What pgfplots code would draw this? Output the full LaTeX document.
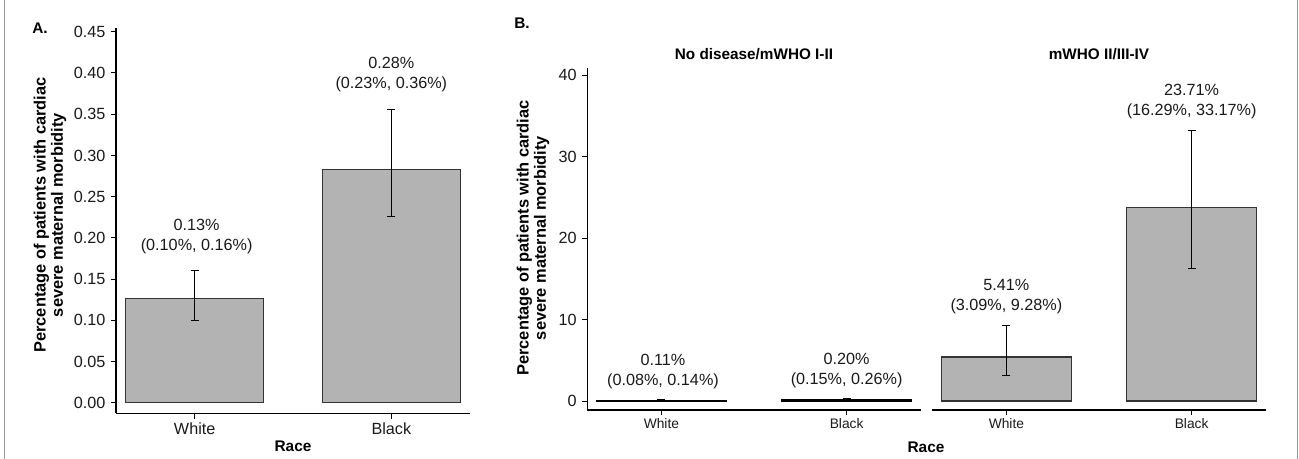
\documentclass[border=0pt]{standalone}
\usepackage{pgfplots}
\pgfplotsset{compat=1.18}
\usepackage{fontspec}
\setmainfont{Liberation Sans}
\definecolor{barfill}{HTML}{B3B3B3}
\definecolor{barline}{HTML}{333333}
\definecolor{framegray}{HTML}{9A9A9A}
\definecolor{txt}{HTML}{1A1A1A}

\pgfplotsset{
  mybase/.style={
    scale only axis,
    anchor=south west,
    axis x line*=bottom,
    axis y line*=left,
    xmin=0.6, xmax=2.4,
    xtick={1,2}, xticklabels={White,Black},
    tick align=outside,
    major tick length=2.6pt,
    tick style={black, line width=0.5pt},
    axis line style={black, line width=0.6pt, -},
    every tick label/.append style={text=txt},
    y tick label style={font=\fontsize{8.1}{9}\selectfont, /pgf/number format/assume math mode=true, xshift=0.8pt},
    clip=false,
  },
  errstyle/.style={
    error bars/.cd, y dir=both, y explicit,
    error bar style={black, line width=0.6pt},
    error mark options={rotate=90, mark size=2pt, line width=0.6pt, black},
  },
}
\tikzset{
  lab/.style={align=center, inner sep=0pt, anchor=south, text=txt,
    font=\fontsize{8.1}{10}\selectfont},
}

\begin{document}
\begin{tikzpicture}
\useasboundingbox (0,0) rectangle (649.5pt,-229.5pt);
\draw[framegray, line width=0.5pt] (2pt,0) -- (2pt,-229.5pt);
\draw[framegray, line width=0.5pt] (648.8pt,0) -- (648.8pt,-229.5pt);

\node[font=\bfseries\fontsize{7.7}{8}\selectfont] at (20pt,-14.3pt) {A.};
\node[font=\bfseries\fontsize{7.7}{8}\selectfont] at (261pt,-11.8pt) {B.};

% Panel A
\begin{axis}[mybase,
  at={(58pt,-206.65pt)},
  width=177pt, height=192.65pt,
  ymin=-0.01286, ymax=0.4546,
  ytick={0,0.05,...,0.45},
  yticklabel style={/pgf/number format/.cd, fixed, fixed zerofill, precision=2},
  x tick label style={font=\fontsize{8.1}{9}\selectfont, yshift=1.5pt},
]
\addplot[ybar, bar width=0.7, fill=barfill, draw=barline, line width=0.6pt, errstyle]
  coordinates {(1,0.126) += (0,0.034) -= (0,0.026)
               (2,0.283) += (0,0.073) -= (0,0.057)};
\node[lab, yshift=8.5pt, xshift=1pt] at (axis cs:1,0.160) {0.13\%\\(0.10\%, 0.16\%)};
\node[lab, yshift=8.5pt] at (axis cs:2,0.356) {0.28\%\\(0.23\%, 0.36\%)};
\end{axis}

% Panel B left facet
\begin{axis}[mybase,
  at={(293.65pt,-205pt)},
  width=166.7pt, height=171pt,
  ymin=-1.104, ymax=40.86,
  ytick={0,10,20,30,40},
  x tick label style={font=\fontsize{6.9}{8}\selectfont, yshift=2pt},
]
\addplot[ybar, bar width=0.7, fill=barfill, draw=black, line width=0.6pt, errstyle]
  coordinates {(1,0.11) += (0,0.03) -= (0,0.03)
               (2,0.20) += (0,0.06) -= (0,0.05)};
\node[lab, yshift=5.5pt, xshift=0.8pt] at (axis cs:1,0.14) {0.11\%\\(0.08\%, 0.14\%)};
\node[lab, yshift=5.5pt] at (axis cs:2,0.26) {0.20\%\\(0.15\%, 0.26\%)};
\end{axis}

% Panel B right facet
\begin{axis}[mybase,
  at={(466.15pt,-205pt)},
  width=166.7pt, height=171pt,
  ymin=-1.104, ymax=40.86,
  axis y line=none, ytick=\empty,
  x tick label style={font=\fontsize{6.9}{8}\selectfont, yshift=2pt},
]
\addplot[ybar, bar width=0.7, fill=barfill, draw=barline, line width=0.6pt, errstyle]
  coordinates {(1,5.41) += (0,3.87) -= (0,2.32)
               (2,23.71) += (0,9.46) -= (0,7.42)};
\node[lab, yshift=5.5pt] at (axis cs:1,9.28) {5.41\%\\(3.09\%, 9.28\%)};
\node[lab, yshift=5.5pt] at (axis cs:2,33.17) {23.71\%\\(16.29\%, 33.17\%)};
\end{axis}

% facet titles
\node[font=\bfseries\fontsize{7.65}{8}\selectfont] at (377pt,-27pt) {No disease/mWHO I-II};
\node[font=\bfseries\fontsize{7.65}{8}\selectfont] at (549.5pt,-27pt) {mWHO II/III-IV};

% axis titles
\node[font=\bfseries\fontsize{7.7}{8}\selectfont] at (146.5pt,-223.3pt) {Race};
\node[font=\bfseries\fontsize{7.7}{8}\selectfont] at (463pt,-223.5pt) {Race};
\node[rotate=90, align=center, font=\bfseries\fontsize{8.2}{7.1}\selectfont] at (25pt,-107.5pt)
  {Percentage of patients with cardiac\\severe maternal morbidity};
\node[rotate=90, align=center, font=\bfseries\fontsize{8.2}{7.1}\selectfont] at (266.5pt,-119pt)
  {Percentage of patients with cardiac\\severe maternal morbidity};
\end{tikzpicture}
\end{document}
